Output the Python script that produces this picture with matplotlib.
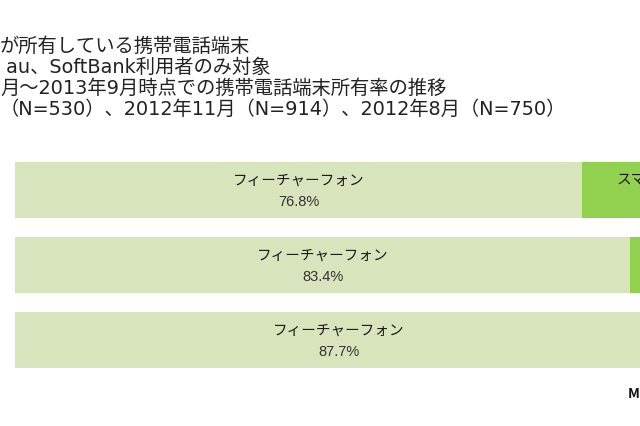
import matplotlib
matplotlib.use("Agg")
import matplotlib.pyplot as plt
import numpy as np

plt.rcParams["font.family"] = ["Noto Sans CJK JP", "DejaVu Sans"]

# Data (chart is cropped on the left and right in the reference)
title_lines = [
    "が所有している携帯電話端末",
    " au、SoftBank利用者のみ対象",
    "月～2013年9月時点での携帯電話端末所有率の推移",
    "（N=530）、2012年11月（N=914）、2012年8月（N=750）",
]
periods = ["2013年9月", "2012年11月", "2012年8月"]
feature_share = [76.8, 83.4, 87.7]
smart_share = [23.2, 16.6, 12.3]
segment_names = ["フィーチャーフォン", "スマートフォン"]
segment_colors = ["#d8e4bc", "#92d050"]
source_label = "MMD研究所"

W, H, DPI = 640, 426, 100
fig = plt.figure(figsize=(W / DPI, H / DPI), dpi=DPI)
fig.patch.set_facecolor("white")

# Title block (left edge is cut off in the original)
for i, line in enumerate(title_lines):
    fig.text(0 / W, 1 - (46 + 21 * i) / H, line, fontsize=13.9,
             color="#222222", ha="left", va="center",
             family=["DejaVu Sans", "Noto Sans CJK JP"])

# Bar area: 0% at x=15px, 100% at 753px; rows 75px apart, first centred at y=190px
px_per_pct = 7.38
ax = fig.add_axes([15 / W, 0, (W - 15) / W, 1])
ax.set_xlim(0, (W - 15) / px_per_pct)
ax.set_ylim((H - 190) / 75, -190 / 75)
ax.axis("off")

y = np.arange(len(periods))
lefts = np.zeros(len(periods))
for name, vals, col in zip(segment_names, [feature_share, smart_share], segment_colors):
    vals = np.array(vals)
    ax.barh(y, vals, left=lefts, height=56 / 75, color=col, edgecolor="none")
    for yi, l, v in zip(y, lefts, vals):
        cx = l + v / 2
        ax.text(cx, yi - 0.13, name, ha="center", va="center", fontsize=10.5,
                color="#1a1a1a", clip_on=False)
        ax.text(cx, yi + 0.16, f"{v:.1f}%", ha="center", va="center",
                fontsize=10.5, color="#333333", family=["Liberation Sans", "DejaVu Sans"],
                clip_on=False)
    lefts = lefts + vals

fig.text(628 / W, 1 - 394 / H, source_label, fontsize=10, fontweight="bold",
         color="#111111", ha="left", va="center")

fig.savefig("out.png", dpi=DPI, facecolor="white")
